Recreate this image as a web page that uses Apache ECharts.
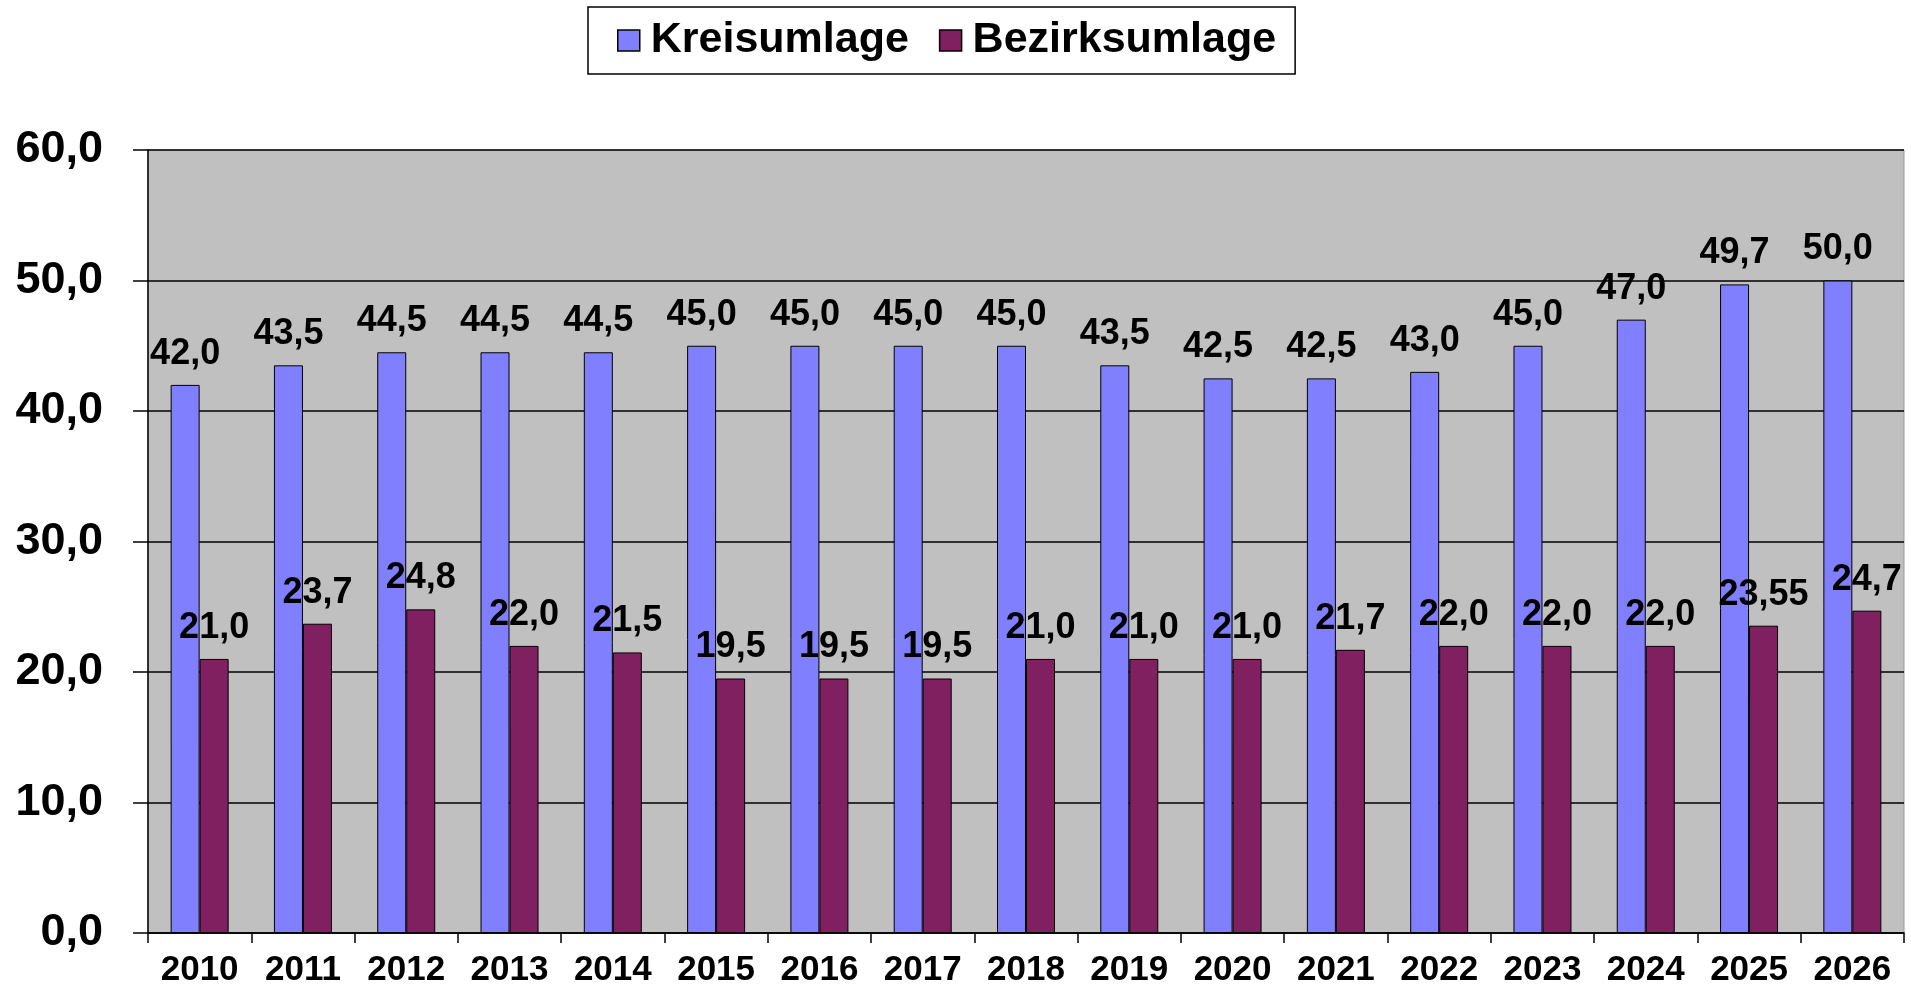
<!DOCTYPE html>
<html>
<head>
<meta charset="utf-8">
<script src="https://cdn.jsdelivr.net/npm/echarts@6/dist/echarts.min.js"></script>
<style>
    html, body { margin: 0; padding: 0; background: #fff; }
    #chart { width: 1911px; height: 992px; }
</style>
</head>
<body>
<div id="chart"></div>
<script>
var years = ['2010', '2011', '2012', '2013', '2014', '2015', '2016', '2017', '2018',
    '2019', '2020', '2021', '2022', '2023', '2024', '2025', '2026'];
var kreisumlage = [42.0, 43.5, 44.5, 44.5, 44.5, 45.0, 45.0, 45.0, 45.0,
    43.5, 42.5, 42.5, 43.0, 45.0, 47.0, 49.7, 50.0];
var bezirksumlage = [21.0, 23.7, 24.8, 22.0, 21.5, 19.5, 19.5, 19.5, 21.0,
    21.0, 21.0, 21.7, 22.0, 22.0, 22.0, 23.55, 24.7];

var fontName = '"Liberation Sans", Arial, sans-serif';

// deutsches Zahlenformat, mindestens eine Nachkommastelle
function fmt(v) {
    var s = (Math.round(v * 10) === v * 10) ? v.toFixed(1) : String(v);
    return s.replace('.', ',');
}

var labelStyle = {
    show: true,
    position: 'top',
    distance: 13,
    color: '#000',
    fontFamily: fontName,
    fontWeight: 'bold',
    fontSize: 36,
    formatter: function (p) { return fmt(p.value); }
};

var chart = echarts.init(document.getElementById('chart'));
chart.setOption({
    animation: false,
    backgroundColor: '#fff',
    legend: {
        top: 7,
        left: 588,
        padding: [12, 19, 12, 29],
        itemGap: 30,
        itemWidth: 22,
        itemHeight: 21,
        icon: 'rect',
        borderColor: '#000',
        borderWidth: 1.5,
        itemStyle: { borderColor: '#000', borderWidth: 1.5 },
        textStyle: {
            color: '#000',
            fontFamily: fontName,
            fontWeight: 'bold',
            fontSize: 43,
            padding: [0, 0, 0, 6]
        },
        data: ['Kreisumlage', 'Bezirksumlage']
    },
    grid: {
        left: 148,
        right: 7,
        top: 150,
        bottom: 59,
        show: true,
        backgroundColor: '#c0c0c0',
        borderColor: '#9a9a9a',
        borderWidth: 1
    },
    xAxis: {
        type: 'category',
        data: years,
        axisLine: { lineStyle: { color: '#000', width: 1.5 } },
        axisTick: { show: true, length: 10, lineStyle: { color: '#000', width: 1.5 } },
        axisLabel: {
            margin: 20,
            color: '#000',
            fontFamily: fontName,
            fontWeight: 'bold',
            fontSize: 35
        }
    },
    yAxis: {
        type: 'value',
        min: 0,
        max: 60,
        interval: 10,
        axisLine: { show: true, lineStyle: { color: '#000', width: 1.5 } },
        axisTick: { show: true, length: 15, lineStyle: { color: '#000', width: 1.5 } },
        splitLine: { lineStyle: { color: '#000', width: 1.5 } },
        axisLabel: {
            margin: 45,
            color: '#000',
            fontFamily: fontName,
            fontWeight: 'bold',
            fontSize: 45,
            formatter: function (v) { return v.toFixed(1).replace('.', ','); }
        }
    },
    series: [
        {
            name: 'Kreisumlage',
            type: 'bar',
            data: kreisumlage,
            barWidth: 29,
            barGap: '0%',
            itemStyle: { color: '#8080ff', borderColor: '#000', borderWidth: 1 },
            label: labelStyle
        },
        {
            name: 'Bezirksumlage',
            type: 'bar',
            data: bezirksumlage,
            barWidth: 29,
            barGap: '0%',
            itemStyle: { color: '#802060', borderColor: '#000', borderWidth: 1 },
            label: labelStyle
        }
    ]
});
</script>
</body>
</html>
